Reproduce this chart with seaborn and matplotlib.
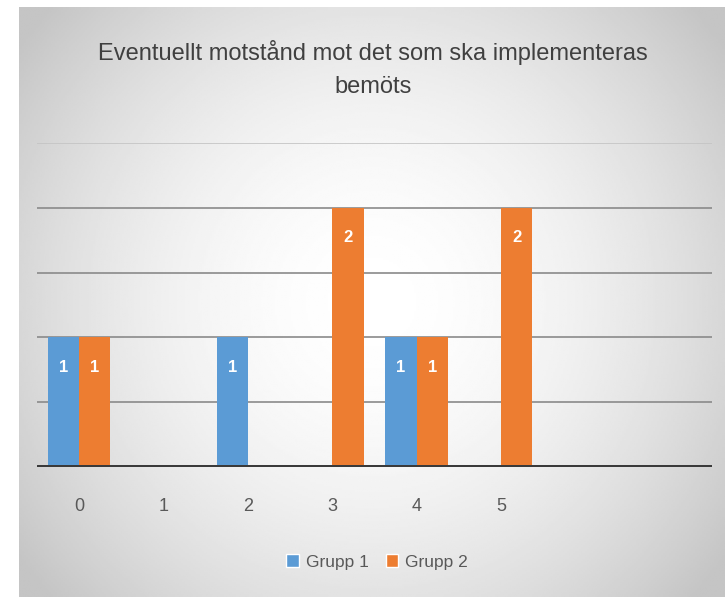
import numpy as np
import pandas as pd
import matplotlib
matplotlib.use("Agg")
import matplotlib.pyplot as plt
import seaborn as sns
from matplotlib.patches import Patch

# data
categories = ["0", "1", "2", "3", "4", "5"]
grupp1 = [1, 0, 1, 0, 1, 0]
grupp2 = [1, 0, 0, 2, 1, 2]
series_names = ["Grupp 1", "Grupp 2"]
title = "Eventuellt motstånd mot det som ska implementeras\nbemöts"

blue = "#5B9BD5"
orange = "#ED7D31"

df = pd.DataFrame({
    "kategori": categories * 2,
    "antal": grupp1 + grupp2,
    "grupp": [series_names[0]] * len(categories) + [series_names[1]] * len(categories),
})

sns.set_theme(style="white")
plt.rcParams["font.family"] = ["Liberation Sans", "DejaVu Sans"]

fig = plt.figure(figsize=(7.25, 5.97), dpi=100)

# radial grey gradient behind the chart (Excel style)
bg = fig.add_axes([19 / 725, 0, 1 - 19 / 725, 1 - 7 / 597], zorder=-10)
yy, xx = np.mgrid[0:1:300j, 0:1:360j]
r = np.sqrt(((xx - 0.5) / 0.62) ** 2 + ((yy - 0.5) / 0.75) ** 2)
shade = 1.0 - 0.23 * np.clip(r, 0, 1) ** 1.8
bg.imshow(shade, cmap="gray", vmin=0, vmax=1, aspect="auto", extent=[0, 1, 0, 1])
bg.axis("off")

ax = fig.add_axes([37 / 725, 1 - 467 / 597, (712 - 37) / 725, (467 - 143) / 597])
ax.patch.set_alpha(0)

sns.barplot(data=df, x="kategori", y="antal", hue="grupp", order=categories,
            palette=[blue, orange], width=0.74, gap=0, saturation=1,
            linewidth=0, legend=False, ax=ax, zorder=3)

# white value labels inside the bars
for cont in ax.containers:
    for bar in cont:
        h = bar.get_height()
        if h > 0:
            ax.text(bar.get_x() + bar.get_width() / 2, h - 0.23, f"{int(h)}",
                    ha="center", va="center", color="white", fontsize=12,
                    fontweight="bold", zorder=4)

ax.set_xlim(-0.5, 7.5)
ax.set_ylim(0, 2.5)
ax.set_yticks([0.5, 1.0, 1.5, 2.0, 2.5])
ax.yaxis.grid(True, color="#8a8a8a", linewidth=1.2)
ax.get_ygridlines()[-1].set_color("#c4c4c4")
ax.set_axisbelow(True)
ax.tick_params(axis="y", left=False, labelleft=False)
ax.tick_params(axis="x", bottom=False, labelsize=13, labelcolor="#595959", pad=16)
ax.set_xlabel("")
ax.set_ylabel("")
for s in ax.spines.values():
    s.set_visible(False)
ax.axhline(0, color="#3a3a3a", linewidth=3.6, zorder=5)

fig.text(0.514, 1 - 69 / 597, title, ha="center", va="center", fontsize=17,
         color="#404040", linespacing=1.65)

handles = [Patch(facecolor=blue, label=series_names[0]),
           Patch(facecolor=orange, label=series_names[1])]
fig.legend(handles=handles, loc="center", bbox_to_anchor=(377 / 725, 1 - 562 / 597),
           ncol=2, frameon=False, fontsize=12.5, handlelength=0.7, handleheight=0.8,
           handletextpad=0.4, columnspacing=1.0, labelcolor="#595959")

fig.savefig("out.png", dpi=100)
